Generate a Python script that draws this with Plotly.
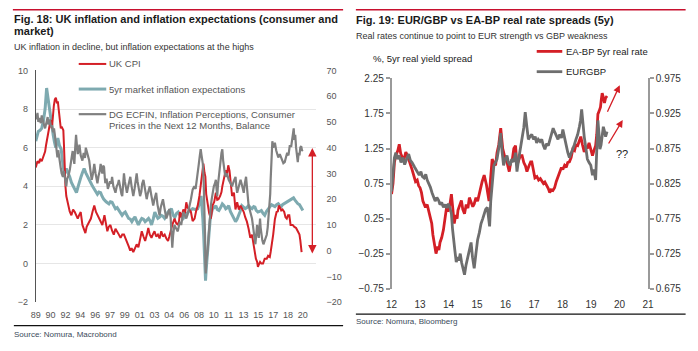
import plotly.graph_objects as go

W, H = 698, 351
FONT = "Liberation Sans, Arial, sans-serif"
RED = "#d41f26"
TEAL = "#7eaab0"
GREY_L = "#808080"
GREY_R = "#6e6e6e"

# ---------------- Left chart data (Fig. 18) ----------------
left_ticklabels = ["89", "90", "92", "94", "96", "97", "99", "01", "03", "04",
                   "06", "08", "10", "11", "13", "15", "17", "18", "20"]

cpi_x = [1989.0, 1989.2, 1989.4, 1989.5, 1989.7, 1989.9, 1990.1, 1990.2, 1990.35, 1990.47,
         1990.6, 1990.74, 1990.9, 1991.0, 1991.13, 1991.25, 1991.37, 1991.5, 1991.6, 1991.7,
         1991.83, 1991.95, 1992.05, 1992.15, 1992.25, 1992.32, 1992.4, 1992.5, 1992.6, 1992.7,
         1992.8, 1993.0, 1993.2, 1993.4, 1993.6, 1993.8, 1993.95, 1994.1, 1994.3, 1994.5,
         1994.7, 1994.85, 1995.0, 1995.1, 1995.3, 1995.5, 1995.7, 1995.9, 1996.1, 1996.3,
         1996.5, 1996.7, 1996.85, 1997.0, 1997.1, 1997.3, 1997.44, 1997.6, 1997.8, 1998.0,
         1998.2, 1998.4, 1998.6, 1998.8, 1999.0, 1999.2, 1999.4, 1999.6, 1999.76, 1999.95,
         2000.14, 2000.3, 2000.5, 2000.7, 2000.9, 2001.1, 2001.3, 2001.5, 2001.7, 2001.9,
         2002.1, 2002.27, 2002.45, 2002.65, 2002.8, 2003.0, 2003.2, 2003.4, 2003.6, 2003.8,
         2004.0, 2004.2, 2004.4, 2004.6, 2004.75, 2004.9, 2005.1, 2005.36, 2005.55, 2005.75,
         2005.9, 2006.0, 2006.2, 2006.4, 2006.6, 2006.75, 2006.9, 2007.1, 2007.3, 2007.5,
         2007.73, 2007.9, 2008.1, 2008.3, 2008.5, 2008.65, 2008.77, 2008.9, 2009.0, 2009.1,
         2009.27, 2009.45, 2009.65, 2009.85, 2010.05, 2010.24, 2010.4, 2010.55, 2010.75, 2010.9,
         2011.0, 2011.2, 2011.4, 2011.55, 2011.7, 2011.85, 2011.97, 2012.15, 2012.37, 2012.55,
         2012.75, 2012.95, 2013.15, 2013.35, 2013.53, 2013.7, 2013.9, 2014.1, 2014.3, 2014.5,
         2014.7, 2014.85, 2014.96, 2015.1, 2015.2, 2015.35, 2015.45, 2015.6, 2015.8, 2016.0,
         2016.24, 2016.4, 2016.6, 2016.7, 2016.8, 2016.9, 2017.0, 2017.2, 2017.4, 2017.55,
         2017.66, 2017.8, 2017.95, 2018.1, 2018.3, 2018.45, 2018.6, 2018.75, 2018.9, 2019.05,
         2019.3, 2019.5, 2019.7, 2019.9, 2020.1, 2020.2, 2020.35]
cpi_y = [4.97, 5.3, 5.2, 5.42, 5.3, 5.59, 5.8, 6.1, 6.5, 6.84,
         7.1, 7.42, 7.0, 7.6, 8.17, 8.5, 8.59, 8.3, 8.4, 8.0,
         7.5, 7.0, 7.09, 7.0, 6.9, 6.17, 4.8, 4.0, 3.5, 3.3,
         3.0, 2.7, 2.5, 2.8, 2.67, 2.5, 2.33, 2.5, 2.67, 2.0,
         1.8, 1.58, 1.9, 2.0, 2.2, 2.33, 2.7, 3.0, 2.67, 2.5,
         2.33, 2.2, 2.0, 2.3, 2.5, 2.0, 1.67, 1.9, 2.0, 1.7,
         1.5, 1.8, 1.67, 1.5, 1.33, 1.5, 1.5, 1.3, 1.17, 0.9,
         0.67, 0.8, 0.59, 0.8, 1.0, 0.84, 1.2, 1.67, 1.4, 1.17,
         1.5, 1.84, 1.5, 1.33, 1.5, 1.67, 1.4, 1.5, 1.3, 1.67,
         1.4, 1.5, 1.3, 1.17, 1.4, 1.67, 2.0, 2.33, 2.1, 2.0,
         2.2, 2.67, 2.4, 2.8, 2.6, 3.17, 2.9, 2.8, 2.67, 2.2,
         2.33, 2.7, 3.0, 3.5, 4.33, 4.8, 5.17, 4.7, 4.5, 3.6,
         3.17, 2.6, 2.33, 3.0, 3.2, 3.67, 3.3, 3.33, 3.5, 3.7,
         4.0, 4.4, 4.84, 4.6, 5.09, 4.8, 4.33, 3.5, 3.67, 2.8,
         3.17, 2.8, 3.0, 2.8, 2.67, 2.4, 2.17, 1.8, 1.33, 1.5,
         0.84, 0.6, 0.25, 0.1, -0.17, 0.0, 0.09, 0.0, 0.0, 0.25,
         0.25, 0.4, 0.34, 0.6, 0.84, 1.2, 1.5, 2.3, 2.67, 2.7,
         3.0, 2.9, 2.75, 2.8, 2.67, 2.4, 2.33, 2.5, 2.5, 2.0,
         2.0, 1.9, 1.84, 1.67, 1.5, 1.2, 0.59]

be5_x = [1989.0, 1989.15, 1989.3, 1989.5, 1989.7, 1989.9, 1990.1, 1990.2, 1990.28, 1990.4,
         1990.5, 1990.62, 1990.75, 1990.9, 1991.05, 1991.2, 1991.36, 1991.5, 1991.6, 1991.8,
         1992.0, 1992.1, 1992.2, 1992.3, 1992.4, 1992.6, 1992.8, 1993.0, 1993.2, 1993.4,
         1993.6, 1993.8, 1994.0, 1994.17, 1994.34, 1994.5, 1994.7, 1994.9, 1995.1, 1995.3,
         1995.5, 1995.7, 1995.9, 1996.1, 1996.27, 1996.45, 1996.65, 1996.8, 1997.0, 1997.3,
         1997.63, 1997.8, 1998.0, 1998.2, 1998.4, 1998.6, 1998.8, 1999.0, 1999.18, 1999.35,
         1999.55, 1999.75, 1999.95, 2000.15, 2000.33, 2000.5, 2000.7, 2000.9, 2001.1, 2001.3,
         2001.5, 2001.7, 2001.9, 2002.1, 2002.3, 2002.5, 2002.65, 2002.85, 2003.04, 2003.2,
         2003.4, 2003.6, 2003.8, 2004.0, 2004.2, 2004.4, 2004.6, 2004.8, 2005.0, 2005.2,
         2005.4, 2005.6, 2005.8, 2006.0, 2006.2, 2006.4, 2006.6, 2006.8, 2006.95, 2007.2,
         2007.5, 2007.8, 2008.1, 2008.3, 2008.5, 2008.6, 2008.7, 2008.8, 2008.9, 2008.97,
         2009.02, 2009.1, 2009.2, 2009.27, 2009.35, 2009.45, 2009.55, 2009.65, 2009.85, 2010.05,
         2010.24, 2010.4, 2010.6, 2010.8, 2011.0, 2011.2, 2011.4, 2011.6, 2011.75, 2011.95,
         2012.15, 2012.35, 2012.56, 2012.75, 2012.95, 2013.1, 2013.3, 2013.5, 2013.7, 2013.9,
         2014.1, 2014.3, 2014.5, 2014.7, 2014.85, 2015.0, 2015.2, 2015.4, 2015.6, 2015.8,
         2016.0, 2016.2, 2016.43, 2016.6, 2016.8, 2017.0, 2017.2, 2017.4, 2017.6, 2017.8,
         2017.95, 2018.1, 2018.3, 2018.5, 2018.7, 2018.9, 2019.1, 2019.25, 2019.4, 2019.55,
         2019.7, 2019.9, 2020.1, 2020.3, 2020.5]
be5_y = [6.34, 6.6, 6.84, 6.9, 7.0, 7.4, 8.0, 8.6, 9.09, 8.7,
         8.34, 8.0, 7.67, 7.2, 6.67, 6.3, 6.0, 6.3, 6.5, 6.1,
         5.92, 5.5, 5.0, 4.8, 4.67, 4.92, 4.7, 4.5, 4.2, 4.0,
         3.8, 3.67, 4.0, 4.2, 4.5, 4.7, 4.92, 4.7, 4.5, 4.3,
         4.17, 4.0, 3.84, 3.7, 3.59, 3.7, 3.67, 3.5, 3.34, 3.2,
         3.09, 3.2, 3.17, 3.0, 2.84, 2.9, 2.75, 2.6, 2.5, 2.6,
         2.67, 2.5, 2.34, 2.3, 2.17, 2.3, 2.42, 2.2, 2.0, 2.2,
         2.34, 2.3, 2.17, 2.25, 2.34, 2.2, 2.0, 2.3, 2.67, 2.5,
         2.34, 2.4, 2.5, 2.45, 2.34, 2.5, 2.67, 2.75, 2.84, 2.5,
         2.4, 2.6, 2.67, 2.5, 2.4, 2.34, 2.5, 2.6, 2.67, 2.75,
         2.84, 2.8, 2.84, 3.1, 3.5, 3.0, 2.34, 1.5, 0.67, -0.2,
         -0.88, -0.3, 0.3, 0.67, 1.2, 1.84, 2.2, 2.5, 2.84, 2.9,
         3.0, 2.8, 2.75, 2.9, 3.09, 3.0, 2.84, 2.9, 3.0, 2.7,
         2.5, 2.3, 2.17, 2.3, 2.5, 2.7, 3.0, 2.9, 2.84, 2.9,
         3.0, 2.9, 2.84, 2.95, 2.92, 2.75, 2.67, 2.7, 2.75, 2.6,
         2.5, 2.7, 2.84, 2.95, 3.05, 3.0, 2.95, 3.05, 3.1, 3.0,
         2.95, 3.05, 3.1, 3.15, 3.2, 3.25, 3.3, 3.35, 3.4, 3.3,
         3.2, 3.1, 3.05, 2.9, 2.75]

ecfin_x = [1989.0, 1989.1, 1989.2, 1989.3, 1989.45, 1989.6, 1989.7, 1989.85, 1990.0, 1990.1,
           1990.25, 1990.4, 1990.5, 1990.65, 1990.8, 1990.9, 1991.05, 1991.15, 1991.25, 1991.35,
           1991.45, 1991.55, 1991.65, 1991.75, 1991.85, 1991.95, 1992.05, 1992.2, 1992.3, 1992.45,
           1992.6, 1992.7, 1992.85, 1993.0, 1993.1, 1993.15, 1993.25, 1993.35, 1993.45, 1993.55,
           1993.65, 1993.75, 1993.85, 1993.95, 1994.05, 1994.15, 1994.3, 1994.5, 1994.65, 1994.8,
           1994.9, 1995.05, 1995.2, 1995.3, 1995.45, 1995.6, 1995.75, 1995.9, 1996.05, 1996.15,
           1996.27, 1996.4, 1996.55, 1996.65, 1996.75, 1996.85, 1996.95, 1997.05, 1997.15, 1997.2,
           1997.35, 1997.5, 1997.6, 1997.75, 1997.9, 1998.0, 1998.15, 1998.3, 1998.4, 1998.55,
           1998.7, 1998.8, 1998.95, 1999.1, 1999.2, 1999.3, 1999.4, 1999.5, 1999.65, 1999.75,
           1999.9, 2000.05, 2000.15, 2000.3, 2000.4, 2000.5, 2000.65, 2000.8, 2000.9, 2001.0,
           2001.15, 2001.3, 2001.45, 2001.55, 2001.7, 2001.85, 2002.0, 2002.08, 2002.2, 2002.35,
           2002.45, 2002.6, 2002.75, 2002.85, 2003.0, 2003.1, 2003.2, 2003.35, 2003.5, 2003.6,
           2003.75, 2003.9, 2004.0, 2004.15, 2004.3, 2004.4, 2004.55, 2004.75, 2004.9, 2005.0,
           2005.1, 2005.2, 2005.35, 2005.5, 2005.65, 2005.75, 2005.9, 2006.0, 2006.15, 2006.3,
           2006.4, 2006.55, 2006.75, 2006.9, 2007.05, 2007.15, 2007.3, 2007.5, 2007.7, 2007.85,
           2007.95, 2008.1, 2008.23, 2008.35, 2008.45, 2008.55, 2008.7, 2008.8, 2008.9, 2008.97,
           2009.0, 2009.05, 2009.12, 2009.2, 2009.27, 2009.37, 2009.45, 2009.55, 2009.65, 2009.75,
           2009.85, 2010.0, 2010.12, 2010.24, 2010.32, 2010.4, 2010.5, 2010.6, 2010.7, 2010.8,
           2010.9, 2011.0, 2011.1, 2011.2, 2011.3, 2011.4, 2011.55, 2011.75, 2011.95, 2012.15,
           2012.35, 2012.56, 2012.65, 2012.75, 2012.95, 2013.15, 2013.35, 2013.53, 2013.65, 2013.8,
           2013.95, 2014.1, 2014.3, 2014.5, 2014.6, 2014.7, 2014.8, 2014.9, 2015.0, 2015.1,
           2015.2, 2015.3, 2015.38, 2015.45, 2015.52, 2015.6, 2015.72, 2015.85, 2016.0, 2016.1,
           2016.24, 2016.35, 2016.43, 2016.52, 2016.6, 2016.65, 2016.7, 2016.8, 2016.9, 2017.0,
           2017.2, 2017.35, 2017.5, 2017.6, 2017.78, 2017.95, 2018.1, 2018.2, 2018.36, 2018.5,
           2018.65, 2018.8, 2018.95, 2019.13, 2019.25, 2019.33, 2019.42, 2019.5, 2019.6, 2019.7,
           2019.8, 2019.9, 2020.0, 2020.1, 2020.2, 2020.3, 2020.4, 2020.5]
ecfin_y = [53, 51, 53.5, 50, 51.5, 49.5, 52.5, 50, 48.5, 47.5,
           50, 51.9, 49, 51, 48, 48.7, 46, 47.5, 45, 41,
           38, 36.2, 39, 36, 35, 32, 30, 28.7, 31, 27,
           25, 28, 29, 31.2, 33, 35, 37, 38.7, 36, 33.7,
           40, 45, 41, 37.5, 39, 41.2, 37, 35, 38, 36,
           40, 38, 36, 35, 31, 27.5, 30, 33.7, 30, 28,
           26.2, 29, 31, 33.7, 31, 30, 33, 32.5, 28, 26.2,
           28, 24, 25, 27, 26, 28.7, 25, 23, 22.5, 25,
           26, 27.5, 24, 22, 21.2, 25, 30, 27, 24, 22.5,
           25, 27, 28.7, 25, 23, 21.2, 24, 28, 30, 27,
           24, 21.2, 23, 26, 27.5, 24, 22, 20, 22, 24,
           25, 22, 19, 17.5, 20, 21, 22.5, 18, 15, 13.7,
           17, 19, 20, 17, 14, 12.5, 14, 16.2, 13, 6,
           1.2, 6, 10, 9, 8, 7.5, 10, 11.2, 10, 13,
           15, 14, 12.5, 14, 16, 17.5, 20, 23.7, 25, 24,
           26.2, 30, 33.7, 37, 39.4, 37, 33.7, 27, 17.5, 5,
           -5, -8.8, -4, -2, 0, 5, 10, 14, 17.5, 20,
           22.5, 25, 26, 27.5, 24, 21.2, 26, 30, 33, 35,
           38, 39.4, 35, 31.2, 30, 28.7, 30, 27.5, 26, 25,
           27, 28.7, 25, 22.5, 25, 27.5, 25, 22.5, 26, 28.7,
           23, 17.5, 15, 12.5, 10, 7.5, 5, 2.5, 6, 10,
           7, 5, 9, 12.5, 9, 6.2, 4, 2.5, 4, 5,
           6.2, 9, 12.5, 15, 17.5, 22, 27.5, 35, 42.5, 40,
           41.9, 39, 37.5, 36.2, 37.5, 36, 35, 34, 34.4, 36,
           38, 37, 40.6, 40.6, 44, 45.6, 47.5, 43, 45, 40,
           37, 34.4, 38, 37, 40, 40.6, 39, 38.7]

# ---------------- Right chart data (Fig. 19) ----------------
right_ticklabels = ["12", "13", "14", "15", "16", "17", "18", "19", "20", "21"]
right_tickyears = [2012, 2013, 2014, 2015, 2016, 2017, 2018, 2019, 2020, 2021]

ea_x = [2012.00, 2012.05, 2012.10, 2012.15, 2012.22, 2012.27, 2012.32, 2012.38, 2012.44, 2012.50,
        2012.56, 2012.62, 2012.67, 2012.72, 2012.78, 2012.84, 2012.90, 2012.95, 2013.00, 2013.05,
        2013.10, 2013.15, 2013.19, 2013.25, 2013.30, 2013.36, 2013.41, 2013.45, 2013.50, 2013.56,
        2013.62, 2013.66, 2013.70, 2013.76, 2013.82, 2013.88, 2013.93, 2013.98, 2014.05, 2014.10,
        2014.15, 2014.20, 2014.25, 2014.30, 2014.33, 2014.40, 2014.45, 2014.50, 2014.56, 2014.62,
        2014.68, 2014.73, 2014.80, 2014.85, 2014.90, 2014.96, 2015.02, 2015.07, 2015.12, 2015.18,
        2015.25, 2015.30, 2015.33, 2015.38, 2015.42, 2015.47, 2015.53, 2015.58, 2015.65, 2015.70,
        2015.76, 2015.83, 2015.87, 2015.90, 2015.96, 2016.03, 2016.08, 2016.13, 2016.18, 2016.24,
        2016.29, 2016.35, 2016.40, 2016.46, 2016.52, 2016.58, 2016.64, 2016.70, 2016.75, 2016.82,
        2016.88, 2016.92, 2016.98, 2017.03, 2017.10, 2017.16, 2017.22, 2017.27, 2017.33, 2017.38,
        2017.44, 2017.50, 2017.55, 2017.60, 2017.66, 2017.72, 2017.78, 2017.84, 2017.90, 2017.96,
        2018.01, 2018.07, 2018.13, 2018.18, 2018.24, 2018.30, 2018.36, 2018.42, 2018.47, 2018.53,
        2018.58, 2018.64, 2018.70, 2018.76, 2018.82, 2018.87, 2018.93, 2018.99, 2019.05, 2019.10,
        2019.16, 2019.20, 2019.24, 2019.28, 2019.33, 2019.36, 2019.39, 2019.43, 2019.47, 2019.51,
        2019.56]
ea_y = [0.60, 0.75, 1.05, 1.15, 1.22, 1.31, 1.18, 1.12, 1.10, 1.20,
        1.15, 1.05, 1.01, 0.95, 0.88, 0.78, 0.80, 0.72, 0.69, 0.62,
        0.50, 0.44, 0.41, 0.45, 0.37, 0.28, 0.18, 0.02, -0.10, -0.25,
        -0.15, -0.20, -0.09, -0.02, 0.09, 0.25, 0.41, 0.35, 0.46, 0.60,
        0.40, 0.18, 0.30, 0.25, 0.37, 0.45, 0.51, 0.38, 0.32, 0.45,
        0.40, 0.55, 0.48, 0.42, 0.46, 0.55, 0.50, 0.60, 0.70, 0.78,
        0.87, 0.80, 0.73, 0.60, 0.50, 0.80, 1.10, 1.05, 1.01, 1.19,
        1.30, 1.54, 1.40, 1.25, 1.15, 1.10, 1.00, 0.92, 1.05, 1.10,
        1.25, 1.29, 1.01, 1.10, 1.15, 1.15, 1.05, 1.00, 0.92, 1.00,
        1.06, 1.06, 0.95, 0.83, 0.85, 0.80, 0.82, 0.78, 0.75, 0.77,
        0.73, 0.68, 0.62, 0.66, 0.65, 0.69, 0.78, 0.85, 0.92, 0.98,
        0.95, 1.01, 0.98, 1.05, 1.06, 1.12, 1.24, 1.22, 1.30, 1.29,
        1.35, 1.42, 1.30, 1.20, 1.28, 1.25, 1.33, 1.25, 1.15, 1.22,
        1.29, 1.45, 1.74, 1.78, 1.84, 1.95, 2.04, 1.98, 1.90, 1.97,
        2.00]

eg_x = [2012.00, 2012.05, 2012.10, 2012.15, 2012.20, 2012.27, 2012.33, 2012.40, 2012.46, 2012.53,
        2012.60, 2012.66, 2012.72, 2012.80, 2012.86, 2012.92, 2012.97, 2013.03, 2013.08, 2013.14,
        2013.20, 2013.25, 2013.30, 2013.36, 2013.42, 2013.47, 2013.53, 2013.59, 2013.65, 2013.70,
        2013.76, 2013.82, 2013.88, 2013.93, 2013.99, 2014.05, 2014.10, 2014.14, 2014.18, 2014.22,
        2014.27, 2014.32, 2014.36, 2014.41, 2014.46, 2014.51, 2014.56, 2014.61, 2014.67, 2014.73,
        2014.79, 2014.84, 2014.90, 2014.96, 2015.02, 2015.08, 2015.14, 2015.20, 2015.25, 2015.30,
        2015.36, 2015.40, 2015.44, 2015.48, 2015.53, 2015.59, 2015.64, 2015.70, 2015.76, 2015.83,
        2015.88, 2015.93, 2015.99, 2016.05, 2016.10, 2016.16, 2016.22, 2016.29, 2016.35, 2016.40,
        2016.46, 2016.52, 2016.58, 2016.64, 2016.69, 2016.75, 2016.80, 2016.86, 2016.92, 2016.98,
        2017.04, 2017.09, 2017.15, 2017.21, 2017.27, 2017.32, 2017.38, 2017.44, 2017.50, 2017.56,
        2017.62, 2017.67, 2017.73, 2017.78, 2017.84, 2017.90, 2017.96, 2018.01, 2018.07, 2018.13,
        2018.18, 2018.24, 2018.30, 2018.36, 2018.41, 2018.47, 2018.53, 2018.59, 2018.63, 2018.67,
        2018.71, 2018.76, 2018.82, 2018.87, 2018.93, 2018.99, 2019.05, 2019.10, 2019.16, 2019.20,
        2019.24, 2019.28, 2019.31, 2019.35, 2019.39, 2019.43, 2019.47, 2019.51, 2019.56]
eg_y = [0.814, 0.845, 0.862, 0.869, 0.860, 0.865, 0.855, 0.862, 0.852, 0.860,
        0.867, 0.858, 0.855, 0.849, 0.845, 0.840, 0.837, 0.842, 0.835, 0.833,
        0.838, 0.830, 0.826, 0.820, 0.812, 0.805, 0.800, 0.805, 0.801, 0.795,
        0.798, 0.791, 0.795, 0.790, 0.796, 0.790, 0.782, 0.760, 0.741, 0.730,
        0.713, 0.720, 0.715, 0.725, 0.712, 0.705, 0.695, 0.708, 0.718, 0.730,
        0.741, 0.720, 0.704, 0.725, 0.745, 0.755, 0.768, 0.775, 0.782, 0.788,
        0.791, 0.780, 0.764, 0.800, 0.828, 0.851, 0.855, 0.860, 0.875, 0.897,
        0.870, 0.851, 0.860, 0.865, 0.855, 0.851, 0.860, 0.856, 0.869, 0.842,
        0.860, 0.879, 0.890, 0.905, 0.927, 0.905, 0.888, 0.892, 0.895, 0.888,
        0.892, 0.883, 0.888, 0.885, 0.888, 0.880, 0.874, 0.882, 0.879, 0.888,
        0.895, 0.904, 0.898, 0.892, 0.888, 0.895, 0.890, 0.902, 0.890, 0.879,
        0.870, 0.862, 0.868, 0.874, 0.880, 0.888, 0.895, 0.906, 0.915, 0.931,
        0.910, 0.892, 0.875, 0.860, 0.855, 0.851, 0.837, 0.845, 0.830, 0.870,
        0.915, 0.895, 0.874, 0.880, 0.895, 0.906, 0.900, 0.892, 0.899]


def px(x):
    return x / W


def py(y):
    return 1 - y / H


# left x tick positions: every 21 months from Jan 1989
left_tickvals = [1989 + 1.75 * i for i in range(len(left_ticklabels))]

fig = go.Figure()
fig.add_trace(go.Scatter(x=be5_x, y=be5_y, xaxis="x", yaxis="y", mode="lines",
                         line=dict(color=TEAL, width=3), hoverinfo="skip"))
fig.add_trace(go.Scatter(x=cpi_x, y=cpi_y, xaxis="x", yaxis="y", mode="lines",
                         line=dict(color=RED, width=2), hoverinfo="skip"))
fig.add_trace(go.Scatter(x=ecfin_x, y=ecfin_y, xaxis="x", yaxis="y2", mode="lines",
                         line=dict(color=GREY_L, width=2.2), hoverinfo="skip"))
fig.add_trace(go.Scatter(x=ea_x, y=ea_y, xaxis="x2", yaxis="y3", mode="lines",
                         line=dict(color=RED, width=2.8), hoverinfo="skip"))
fig.add_trace(go.Scatter(x=eg_x, y=eg_y, xaxis="x2", yaxis="y4", mode="lines",
                         line=dict(color=GREY_R, width=2.8), hoverinfo="skip"))

tick_font = dict(family=FONT, size=9, color="#555555")
tick_font_r = dict(family=FONT, size=10, color="#333333")

fig.update_layout(
    width=W, height=H, margin=dict(l=0, r=0, t=0, b=0),
    paper_bgcolor="white", plot_bgcolor="rgba(0,0,0,0)", showlegend=False,
    font=dict(family=FONT),
    # ---- left chart axes
    xaxis=dict(domain=[px(30.3), px(315)], range=[1989, 2022], anchor="y",
               tickmode="array", tickvals=left_tickvals, ticktext=left_ticklabels,
               showgrid=False, showline=False, zeroline=False,
               ticks="outside", ticklen=4, tickcolor="rgba(0,0,0,0)", tickfont=tick_font),
    yaxis=dict(domain=[py(306.7), py(66.7)], range=[-2, 10], anchor="x",
               tickmode="array", tickvals=[-2, 0, 2, 4, 6, 8, 10],
               showgrid=True, gridcolor="#e6e6e6", gridwidth=1,
               showline=True, linecolor="#555555", linewidth=1, zeroline=False,
               ticks="outside", ticklen=5, tickcolor="rgba(0,0,0,0)", tickfont=tick_font),
    yaxis2=dict(overlaying="y", side="right", anchor="x", range=[-20, 70],
                tickmode="array", tickvals=[-20, -10, 0, 10, 20, 30, 40, 50, 60, 70],
                showgrid=False, showline=False, zeroline=False,
                ticks="outside", ticklen=8, tickcolor="rgba(0,0,0,0)", tickfont=tick_font),
    xaxis3=dict(overlaying="x", anchor="free", position=py(266.7), range=[1989, 2022],
                tickmode="array", tickvals=left_tickvals, showticklabels=False,
                ticks="outside", ticklen=4, tickcolor="#888888",
                showline=True, linecolor="#999999", linewidth=1,
                showgrid=False, zeroline=False),
    # ---- right chart axes
    xaxis2=dict(domain=[px(392.3), px(653.3)], range=[2012, 2021], anchor="y3",
                tickmode="array", tickvals=right_tickyears, ticktext=right_ticklabels,
                showgrid=False, showline=False, zeroline=False,
                ticks="outside", ticklen=6, tickcolor="rgba(0,0,0,0)", tickfont=tick_font_r),
    yaxis3=dict(domain=[py(292.7), py(75)], range=[-0.75, 2.25], anchor="x2",
                tickmode="array", tickvals=[-0.75, -0.25, 0.25, 0.75, 1.25, 1.75, 2.25],
                tickformat=".2f", showgrid=False, zeroline=False,
                showline=True, linecolor="#9a9a9a", linewidth=1.5,
                ticks="outside", ticklen=4, tickcolor="#9a9a9a", tickwidth=1.5,
                tickfont=tick_font_r),
    yaxis4=dict(overlaying="y3", side="right", anchor="x2", range=[0.675, 0.975],
                tickmode="array", tickvals=[0.675, 0.725, 0.775, 0.825, 0.875, 0.925, 0.975],
                tickformat=".3f", showgrid=False, zeroline=False,
                showline=True, linecolor="#9a9a9a", linewidth=1.5,
                ticks="outside", ticklen=4, tickcolor="#9a9a9a", tickwidth=1.5,
                tickfont=tick_font_r),
    xaxis4=dict(overlaying="x2", anchor="free", position=py(238.3), range=[2012, 2021],
                tickmode="array", tickvals=right_tickyears, showticklabels=False,
                ticks="outside", ticklen=3, tickcolor="#9a9a9a", tickwidth=1.5,
                showline=True, linecolor="#9a9a9a", linewidth=1.5,
                showgrid=False, zeroline=False),
)

shapes = []
# top red rules
shapes.append(dict(type="line", xref="paper", yref="paper", x0=px(7), x1=px(343),
                   y0=py(4), y1=py(4), line=dict(color="#c8102e", width=1.5)))
shapes.append(dict(type="line", xref="paper", yref="paper", x0=px(356), x1=px(691.5),
                   y0=py(4), y1=py(4), line=dict(color="#c8102e", width=1.5)))
# source rules
shapes.append(dict(type="line", xref="paper", yref="paper", x0=px(8), x1=px(343),
                   y0=py(331), y1=py(331), line=dict(color="#111111", width=1.2)))
shapes.append(dict(type="line", xref="paper", yref="paper", x0=px(356), x1=px(691.5),
                   y0=py(319), y1=py(319), line=dict(color="#111111", width=1.2)))
# legend swatches left
for ysw, col, wd in [(60, RED, 2), (86, TEAL, 3), (112, GREY_L, 2.2)]:
    shapes.append(dict(type="line", xref="paper", yref="paper", x0=px(74), x1=px(102),
                       y0=py(ysw), y1=py(ysw), line=dict(color=col, width=wd)))
# legend swatches right
for ysw, col in [(47, RED), (68, GREY_R)]:
    shapes.append(dict(type="line", xref="paper", yref="paper", x0=px(540), x1=px(566),
                       y0=py(ysw), y1=py(ysw), line=dict(color=col, width=2.8)))

ann = []


def text(x, y, s, size, color="#333333", bold=False, xanchor="left"):
    ann.append(dict(x=px(x), y=py(y), xref="paper", yref="paper", text=(f"<b>{s}</b>" if bold else s),
                    showarrow=False, xanchor=xanchor, yanchor="middle", borderpad=0,
                    font=dict(family=FONT, size=size, color=color), align="left"))


text(7, 13.5, "Fig. 18: UK inflation and inflation expectations (consumer and", 11, "#1a1a1a", True)
text(7, 26.2, "market)", 11, "#1a1a1a", True)
text(7, 42.5, "UK inflation in decline, but inflation expectations at the highs", 9, "#333333")
text(7, 340, "Source: Nomura, Macrobond", 8, "#3a4a5a")

text(355, 15, "Fig. 19: EUR/GBP vs EA-BP real rate spreads (5y)", 11, "#1a1a1a", True)
text(355, 31, "Real rates continue to point to EUR strength vs GBP weakness", 9, "#333333")
text(355, 327, "Source: Nomura, Bloomberg", 8, "#3a4a5a")
text(372, 54, "%, 5yr real yield spread", 9.5, "#222222")

# left legend texts
text(104, 60, "UK CPI", 9.5, "#555555")
text(104, 86, "5yr market inflation expectations", 9.5, "#555555")
text(104, 112, "DG ECFIN, Inflation Perceptions, Consumer", 9.5, "#555555")
text(104, 123.5, "Prices in the Next 12 Months, Balance", 9.5, "#555555")
# right legend texts
text(569, 47, "EA-BP 5yr real rate", 9.5, "#222222")
text(569, 68, "EURGBP", 9.5, "#222222")
text(620, 153, "??", 11, "#222222")

# arrows
ann.append(dict(x=px(311.7), y=py(147), xref="paper", yref="paper", ax=0, ay=107,
                axref="pixel", ayref="pixel", showarrow=True, arrowhead=2, startarrowhead=2,
                arrowside="end+start", arrowsize=1.3, arrowwidth=1.3, arrowcolor="#d41f26", text=""))
ann.append(dict(x=px(624.5), y=py(82), xref="paper", yref="paper", ax=-13, ay=28,
                showarrow=True, arrowhead=2, arrowsize=1.1, arrowwidth=1.3,
                arrowcolor="#d41f26", text=""))
ann.append(dict(x=px(627.5), y=py(118), xref="paper", yref="paper", ax=-15, ay=25,
                showarrow=True, arrowhead=2, arrowsize=1.1, arrowwidth=1.3,
                arrowcolor="#d41f26", text=""))

fig.update_layout(shapes=shapes, annotations=ann)
fig.write_html("out.html")
